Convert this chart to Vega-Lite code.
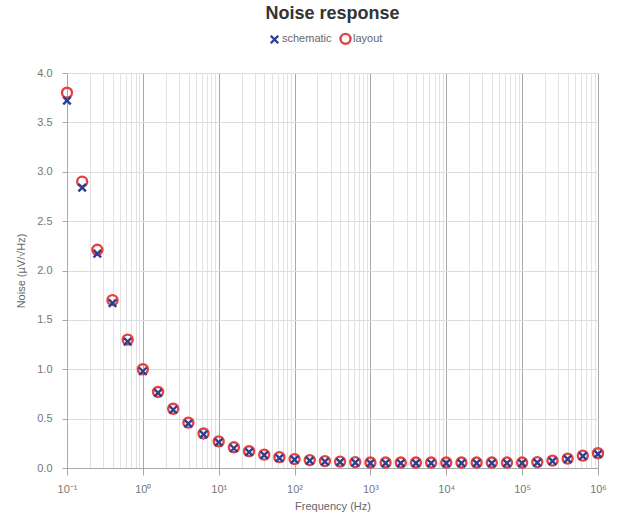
{
  "$schema": "https://vega.github.io/schema/vega-lite/v6.json",
  "width": 531,
  "height": 395,
  "autosize": "none",
  "padding": {"left": 67, "top": 73, "right": 25, "bottom": 53},
  "background": "white",
  "title": {
    "text": "Noise response",
    "font": "Liberation Sans",
    "fontSize": 18,
    "fontWeight": "bold",
    "color": "#333333",
    "anchor": "middle",
    "offset": 9
  },
  "data": {
    "values": [
      {"f": 0.1, "s": "layout", "v": 3.80},
      {"f": 0.1585, "s": "layout", "v": 2.90},
      {"f": 0.2512, "s": "layout", "v": 2.21},
      {"f": 0.3981, "s": "layout", "v": 1.70},
      {"f": 0.631, "s": "layout", "v": 1.30},
      {"f": 1, "s": "layout", "v": 1.00},
      {"f": 1.585, "s": "layout", "v": 0.77},
      {"f": 2.512, "s": "layout", "v": 0.60},
      {"f": 3.981, "s": "layout", "v": 0.46},
      {"f": 6.31, "s": "layout", "v": 0.35},
      {"f": 10, "s": "layout", "v": 0.27},
      {"f": 15.85, "s": "layout", "v": 0.21},
      {"f": 25.12, "s": "layout", "v": 0.17},
      {"f": 39.81, "s": "layout", "v": 0.135},
      {"f": 63.1, "s": "layout", "v": 0.11},
      {"f": 100, "s": "layout", "v": 0.09},
      {"f": 158.5, "s": "layout", "v": 0.08},
      {"f": 251.2, "s": "layout", "v": 0.07},
      {"f": 398.1, "s": "layout", "v": 0.065},
      {"f": 631, "s": "layout", "v": 0.06},
      {"f": 1000, "s": "layout", "v": 0.055},
      {"f": 1585, "s": "layout", "v": 0.055},
      {"f": 2512, "s": "layout", "v": 0.055},
      {"f": 3981, "s": "layout", "v": 0.055},
      {"f": 6310, "s": "layout", "v": 0.055},
      {"f": 10000, "s": "layout", "v": 0.055},
      {"f": 15849, "s": "layout", "v": 0.055},
      {"f": 25119, "s": "layout", "v": 0.055},
      {"f": 39811, "s": "layout", "v": 0.055},
      {"f": 63096, "s": "layout", "v": 0.055},
      {"f": 100000, "s": "layout", "v": 0.055},
      {"f": 158489, "s": "layout", "v": 0.06},
      {"f": 251189, "s": "layout", "v": 0.075},
      {"f": 398107, "s": "layout", "v": 0.095},
      {"f": 630957, "s": "layout", "v": 0.125},
      {"f": 1000000, "s": "layout", "v": 0.15},
      {"f": 0.1, "s": "schematic", "v": 3.72},
      {"f": 0.1585, "s": "schematic", "v": 2.84},
      {"f": 0.2512, "s": "schematic", "v": 2.17},
      {"f": 0.3981, "s": "schematic", "v": 1.67},
      {"f": 0.631, "s": "schematic", "v": 1.28},
      {"f": 1, "s": "schematic", "v": 0.98},
      {"f": 1.585, "s": "schematic", "v": 0.76},
      {"f": 2.512, "s": "schematic", "v": 0.59},
      {"f": 3.981, "s": "schematic", "v": 0.45},
      {"f": 6.31, "s": "schematic", "v": 0.34},
      {"f": 10, "s": "schematic", "v": 0.26},
      {"f": 15.85, "s": "schematic", "v": 0.20},
      {"f": 25.12, "s": "schematic", "v": 0.16},
      {"f": 39.81, "s": "schematic", "v": 0.13},
      {"f": 63.1, "s": "schematic", "v": 0.10},
      {"f": 100, "s": "schematic", "v": 0.085},
      {"f": 158.5, "s": "schematic", "v": 0.075},
      {"f": 251.2, "s": "schematic", "v": 0.065},
      {"f": 398.1, "s": "schematic", "v": 0.06},
      {"f": 631, "s": "schematic", "v": 0.055},
      {"f": 1000, "s": "schematic", "v": 0.05},
      {"f": 1585, "s": "schematic", "v": 0.05},
      {"f": 2512, "s": "schematic", "v": 0.05},
      {"f": 3981, "s": "schematic", "v": 0.05},
      {"f": 6310, "s": "schematic", "v": 0.05},
      {"f": 10000, "s": "schematic", "v": 0.05},
      {"f": 15849, "s": "schematic", "v": 0.05},
      {"f": 25119, "s": "schematic", "v": 0.05},
      {"f": 39811, "s": "schematic", "v": 0.05},
      {"f": 63096, "s": "schematic", "v": 0.05},
      {"f": 100000, "s": "schematic", "v": 0.05},
      {"f": 158489, "s": "schematic", "v": 0.055},
      {"f": 251189, "s": "schematic", "v": 0.07},
      {"f": 398107, "s": "schematic", "v": 0.09},
      {"f": 630957, "s": "schematic", "v": 0.12},
      {"f": 1000000, "s": "schematic", "v": 0.14}
    ]
  },
  "mark": {"type": "point", "filled": false, "strokeWidth": 2.4, "size": 100, "opacity": 1},
  "encoding": {
    "x": {
      "field": "f",
      "type": "quantitative",
      "scale": {"type": "log", "domain": [0.1, 1000000], "nice": false},
      "axis": {
        "title": "Frequency (Hz)",
        "values": [0.1,0.2,0.3,0.4,0.5,0.6,0.7,0.8,0.9,1,2,3,4,5,6,7,8,9,10,20,30,40,50,60,70,80,90,100,200,300,400,500,600,700,800,900,1000,2000,3000,4000,5000,6000,7000,8000,9000,10000,20000,30000,40000,50000,60000,70000,80000,90000,100000,200000,300000,400000,500000,600000,700000,800000,900000,1000000],
        "labelExpr": "abs(log(datum.value)/LN10 - round(log(datum.value)/LN10)) < 0.01 ? ['10⁻¹','10⁰','10¹','10²','10³','10⁴','10⁵','10⁶'][round(log(datum.value)/LN10)+1] : ''",
        "labelOverlap": false,
        "labelBound": false,
        "labelFlush": false,
        "gridColor": {"condition": {"test": "abs(log(datum.value)/LN10 - round(log(datum.value)/LN10)) < 0.01", "value": "#a8a8a8"}, "value": "#e2e2e2"},
        "tickOpacity": {"condition": {"test": "abs(log(datum.value)/LN10 - round(log(datum.value)/LN10)) < 0.01", "value": 1}, "value": 0},
        "tickSize": 7,
        "labelPadding": 8,
        "titlePadding": 6
      }
    },
    "y": {
      "field": "v",
      "type": "quantitative",
      "scale": {"domain": [0, 4], "nice": false},
      "axis": {
        "title": "Noise (µV/√Hz)",
        "values": [0, 0.5, 1, 1.5, 2, 2.5, 3, 3.5, 4],
        "format": ".1f",
        "gridColor": "#dcdcdc",
        "tickSize": 5,
        "labelPadding": 10,
        "titlePadding": 10
      }
    },
    "shape": {
      "field": "s",
      "type": "nominal",
      "scale": {"domain": ["schematic", "layout"], "range": ["M-0.75,-0.75L0.75,0.75M-0.75,0.75L0.75,-0.75", "circle"]},
      "legend": {"title": null}
    },
    "color": {
      "field": "s",
      "type": "nominal",
      "scale": {"domain": ["schematic", "layout"], "range": ["#2d3f8e", "#e8403f"]},
      "legend": {"title": null}
    }
  },
  "config": {
    "font": "Liberation Sans",
    "view": {"stroke": null},
    "axis": {
      "labelFont": "Liberation Sans",
      "labelFontSize": 11,
      "labelColor": "#777777",
      "titleFont": "Liberation Sans",
      "titleFontSize": 11,
      "titleFontWeight": "normal",
      "titleColor": "#666666",
      "domainColor": "#a8a8a8",
      "tickColor": "#a8a8a8",
      "grid": true
    },
    "legend": {
      "orient": "none",
      "legendX": 201,
      "legendY": -41,
      "direction": "horizontal",
      "labelFont": "Liberation Sans",
      "labelFontSize": 11,
      "labelColor": "#666666",
      "symbolSize": 100,
      "symbolStrokeWidth": 2.4,
      "columnPadding": 3,
      "labelOffset": 1
    }
  }
}
